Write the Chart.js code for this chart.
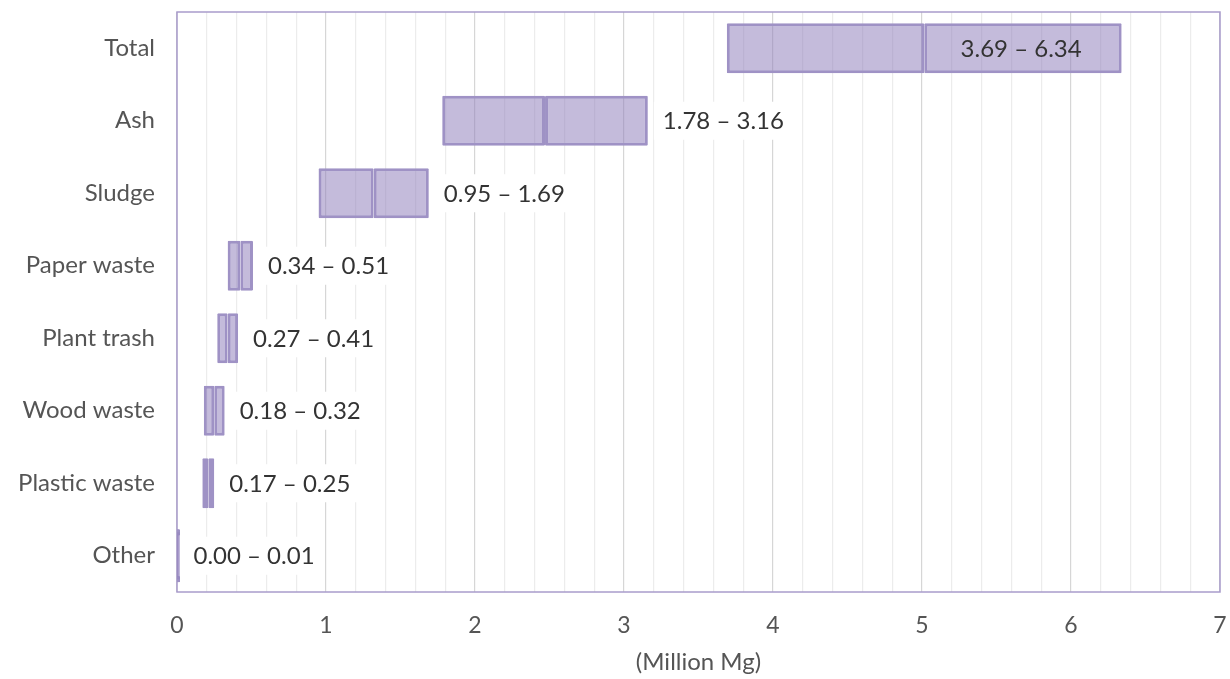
<!DOCTYPE html>
<html lang="en">
<head>
    <meta charset="UTF-8">
    <meta content="width=device-width, initial-scale=1.0" name="viewport">
    <script src="https://cdn.jsdelivr.net/npm/chart.js"></script>
    <title>Waste ranges</title>
    <style>
        html, body { margin: 0; padding: 0; background: #ffffff; }
        .wrap { width: 1230px; height: 679px; }
    </style>
</head>
<body>

<div class="wrap"><canvas id="myChart"></canvas></div>

<script>
    const categories = ['Total', 'Ash', 'Sludge', 'Paper waste', 'Plant trash', 'Wood waste', 'Plastic waste', 'Other'];
    const lowValues  = [3.69, 1.78, 0.95, 0.34, 0.27, 0.18, 0.17, 0.00];
    const highValues = [6.34, 3.16, 1.69, 0.51, 0.41, 0.32, 0.25, 0.01];
    const xTicks = [0, 1, 2, 3, 4, 5, 6, 7];

    const midValues = lowValues.map((lo, i) => (lo + highValues[i]) / 2);

    const fill = 'rgba(148,132,190,0.55)';
    const edge = '#9f92c5';
    const font = 'Lato, "Open Sans", sans-serif';

    // very thin ranges get a little extra width so they stay visible
    const inflate = (c) => {
        const i = c.dataIndex;
        return (highValues[i] - lowValues[i]) < 0.05 ? 1.5 : 'auto';
    };

    // plot frame all round, under the bars
    const frame = {
        id: 'frame',
        beforeDatasetsDraw: (chart) => {
            const {ctx, chartArea: a} = chart;
            ctx.save();
            ctx.strokeStyle = '#a99ccb';
            ctx.lineWidth = 1.5;
            ctx.strokeRect(a.left, a.top, a.right - a.left, a.bottom - a.top);
            ctx.restore();
        }
    };

    // range labels: inside the bar for the first row, on a white box after the others
    const rangeLabels = {
        id: 'rangeLabels',
        afterDatasetsDraw: (chart) => {
            const {ctx} = chart;
            const meta = chart.getDatasetMeta(1);
            ctx.save();
            ctx.font = '24px ' + font;
            ctx.textBaseline = 'middle';
            meta.data.forEach((bar, i) => {
                const text = lowValues[i].toFixed(2) + ' \u2013 ' + highValues[i].toFixed(2);
                const w = ctx.measureText(text).width;
                if (i === 0) {
                    ctx.textAlign = 'right';
                    ctx.fillStyle = '#333333';
                    ctx.fillText(text, bar.x - 40, bar.y + 1);
                } else {
                    const x0 = bar.x + 15;
                    ctx.fillStyle = '#ffffff';
                    ctx.fillRect(x0 - 9, bar.y - 19, w + 18, 38);
                    ctx.textAlign = 'left';
                    ctx.fillStyle = '#333333';
                    ctx.fillText(text, x0, bar.y + 1);
                }
            });
            ctx.restore();
        }
    };

    const ctx = document.getElementById('myChart').getContext('2d');

    new Chart(ctx, {
        type: 'bar',
        data: {
            labels: categories,
            datasets: [{
                data: lowValues.map((lo, i) => [lo, midValues[i]]),
                backgroundColor: fill,
                borderColor: edge,
                borderWidth: 3,
                borderSkipped: false,
                borderRadius: 1,
                inflateAmount: inflate
            }, {
                data: midValues.map((m, i) => [m, highValues[i]]),
                backgroundColor: fill,
                borderColor: edge,
                borderWidth: 3,
                borderSkipped: false,
                borderRadius: 1,
                inflateAmount: inflate
            }]
        },
        options: {
            indexAxis: 'y',
            responsive: true,
            maintainAspectRatio: false,
            animation: false,
            grouped: false,
            barPercentage: 0.69,
            categoryPercentage: 1,
            layout: { padding: { top: 12, right: 10, left: 0, bottom: 0 } },
            plugins: {
                legend: { display: false },
                tooltip: { enabled: false }
            },
            scales: {
                x: {
                    min: xTicks[0],
                    max: xTicks[xTicks.length - 1],
                    afterFit: (s) => {
                        s.height = 87;
                        s.paddingLeft = 0;
                        s.paddingRight = 0;
                    },
                    afterBuildTicks: (s) => {
                        const t = [];
                        for (let k = 0; k <= 35; k++) t.push({ value: k / 5 });
                        s.ticks = t;
                    },
                    ticks: {
                        autoSkip: false,
                        maxRotation: 0,
                        padding: 20,
                        color: '#555555',
                        font: { family: font, size: 23 },
                        callback: (v) => xTicks.includes(Math.round(v * 5) / 5) ? String(Math.round(v * 5) / 5) : ''
                    },
                    grid: {
                        drawTicks: false,
                        color: (c) => Number.isInteger(Math.round(c.tick.value * 5) / 5) ? '#d6d6d6' : '#ececec',
                        lineWidth: 1.2
                    },
                    border: { display: false },
                    title: {
                        display: true,
                        text: '(Million Mg)',
                        color: '#555555',
                        font: { family: font, size: 24 },
                        padding: { top: 0, bottom: 2 }
                    }
                },
                y: {
                    afterFit: (s) => {
                        s.width = 177;
                        s.paddingTop = 0;
                        s.paddingBottom = 0;
                    },
                    ticks: {
                        padding: 22,
                        color: '#555555',
                        font: { family: font, size: 24 }
                    },
                    grid: { display: false, drawTicks: false },
                    border: { display: false }
                }
            }
        },
        plugins: [frame, rangeLabels]
    });
</script>

</body>
</html>
